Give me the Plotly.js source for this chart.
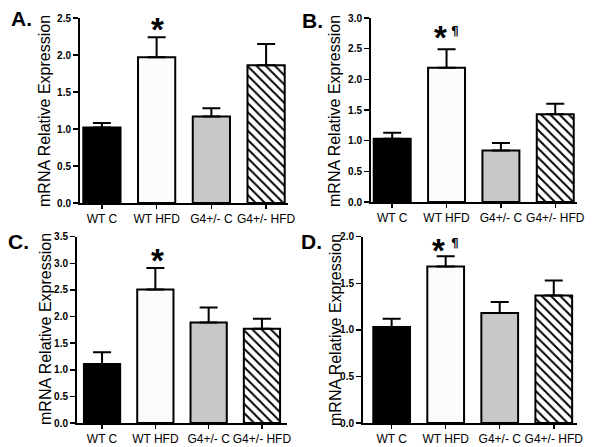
<!DOCTYPE html>
<html>
<head>
<meta charset="utf-8">
<script src="https://cdn.plot.ly/plotly-3.0.1.min.js"></script>
<style>html,body{margin:0;padding:0;background:#fff;}#chart{width:600px;height:447px;}</style>
</head>
<body>
<div id="chart"></div>
<script>
// ---- data ----
const categories = ["WT C", "WT HFD", "G4+/- C", "G4+/- HFD"];
const meanA = [1.02, 1.97, 1.17, 1.86];
const errA  = [0.06, 0.27, 0.11, 0.29];
const meanB = [1.03, 2.19, 0.84, 1.43];
const errB  = [0.10, 0.30, 0.12, 0.17];
const meanC = [1.11, 2.51, 1.89, 1.77];
const errC  = [0.22, 0.40, 0.28, 0.19];
const meanD = [1.03, 1.68, 1.18, 1.37];
const errD  = [0.09, 0.11, 0.12, 0.16];
const yTopA = 2.5, yTopB = 3.0, yTopC = 3.5, yTopD = 2.0;
const panelLabels = ["A.", "B.", "C.", "D."];
const yTitle = "mRNA Relative Expression";

// ---- styling ----
const FONT = "Liberation Sans, Arial, Helvetica, sans-serif";
const barColors = ["#000000", "#fcfcfc", "#c8c8c8", "#ffffff"];
const W = 600, H = 447;

function barTraces(means, errs, xa, ya) {
  const base = {
    type: "bar", xaxis: xa, yaxis: ya, width: 0.68, hoverinfo: "skip", showlegend: false
  };
  const solid = Object.assign({}, base, {
    x: categories.slice(0, 3), y: means.slice(0, 3),
    marker: {color: barColors.slice(0, 3), line: {color: "#000", width: 2}},
    error_y: {type: "data", symmetric: false, array: errs.slice(0, 3), arrayminus: [0, 0, 0],
              color: "#000", thickness: 2, width: 9}
  });
  const hatched = Object.assign({}, base, {
    x: categories.slice(3), y: means.slice(3),
    marker: {color: "#000", line: {color: "#000", width: 2},
             pattern: {shape: "\\", fgcolor: "#000", bgcolor: "#fff", size: 6.5, solidity: 0.3, fillmode: "replace"}},
    error_y: {type: "data", symmetric: false, array: errs.slice(3), arrayminus: [0],
              color: "#000", thickness: 2, width: 9}
  });
  return [solid, hatched];
}

function xAxis(x0, x1, r) {
  return {domain: [x0 / W, x1 / W], range: r, type: "category", categoryorder: "array", categoryarray: categories,
          showline: true, linecolor: "#000", linewidth: 2,
          ticks: "outside", ticklen: 4, tickwidth: 1.5, tickcolor: "#000", showgrid: false, zeroline: false,
          tickfont: {family: FONT, size: 12, color: "#000"}, fixedrange: true};
}
function yAxis(yb, yt, top, anchor) {
  return {domain: [1 - yb / H, 1 - yt / H], range: [0, top], showline: true, linecolor: "#000", linewidth: 2,
          ticks: "outside", ticklen: 5, tickwidth: 1.5, tickcolor: "#000", showgrid: false, zeroline: false,
          dtick: 0.5, tick0: 0, tickformat: ".1f", anchor: anchor,
          tickfont: {family: FONT, size: 10, color: "#000", weight: "bold"}, fixedrange: true};
}

const data = [].concat(
  barTraces(meanA, errA, "x", "y"),
  barTraces(meanB, errB, "x2", "y2"),
  barTraces(meanC, errC, "x3", "y3"),
  barTraces(meanD, errD, "x4", "y4")
);

function pxX(px) { return px / W; }
function pxY(py) { return 1 - py / H; }

const annotations = [];
// panel letters
[[21, 19], [312, 20], [18, 241], [311, 242]].forEach((p, i) => {
  annotations.push({text: panelLabels[i], xref: "paper", yref: "paper", x: pxX(p[0]), y: pxY(p[1]),
    showarrow: false, font: {family: FONT, size: 21, color: "#000", weight: "bold"}, xanchor: "center", yanchor: "middle"});
});
// y titles
[[45, 111], [335, 111], [45, 329], [335, 330]].forEach(p => {
  annotations.push({text: yTitle, xref: "paper", yref: "paper", x: pxX(p[0]), y: pxY(p[1]), textangle: -90,
    showarrow: false, font: {family: FONT, size: 16, color: "#000"}, xanchor: "center", yanchor: "middle"});
});
// significance marks
const ast = (xa, px, py) => ({text: "*", xref: xa, yref: "paper", x: "WT HFD", xshift: px, y: pxY(py),
  showarrow: false, font: {family: FONT, size: 33, color: "#000", weight: "bold"}, xanchor: "center", yanchor: "top"});
const para = (xa, px, py) => ({text: "¶", xref: xa, yref: "paper", x: "WT HFD", xshift: px, y: pxY(py),
  showarrow: false, font: {family: "DejaVu Sans, sans-serif", size: 12, color: "#000000", weight: "bold"}, xanchor: "center", yanchor: "middle"});
annotations.push(ast("x", 1, 9));
annotations.push(ast("x2", -6, 17));
annotations.push(para("x2", 8, 31));
annotations.push(ast("x3", 2, 240));
annotations.push(ast("x4", -7, 230));
annotations.push(para("x4", 9, 243));

const layout = {
  width: W, height: H, margin: {l: 0, r: 0, t: 0, b: 0},
  paper_bgcolor: "#fff", plot_bgcolor: "#fff",
  font: {family: FONT, color: "#000"},
  barmode: "overlay",
  xaxis:  xAxis(80, 288, [-0.4, 3.4]),
  yaxis:  yAxis(203, 18, yTopA, "x"),
  xaxis2: xAxis(371, 577, [-0.39, 3.4]),
  yaxis2: yAxis(202, 18, yTopB, "x2"),
  xaxis3: xAxis(77, 287, [-0.47, 3.47]),
  yaxis3: yAxis(423, 236.7, yTopC, "x3"),
  xaxis4: xAxis(363, 577, [-0.53, 3.43]),
  yaxis4: yAxis(423, 236.7, yTopD, "x4"),
  annotations: annotations
};
layout.xaxis.anchor = "y"; layout.xaxis2.anchor = "y2"; layout.xaxis3.anchor = "y3"; layout.xaxis4.anchor = "y4";

Plotly.newPlot("chart", data, layout, {staticPlot: true, displayModeBar: false});
</script>
</body>
</html>
